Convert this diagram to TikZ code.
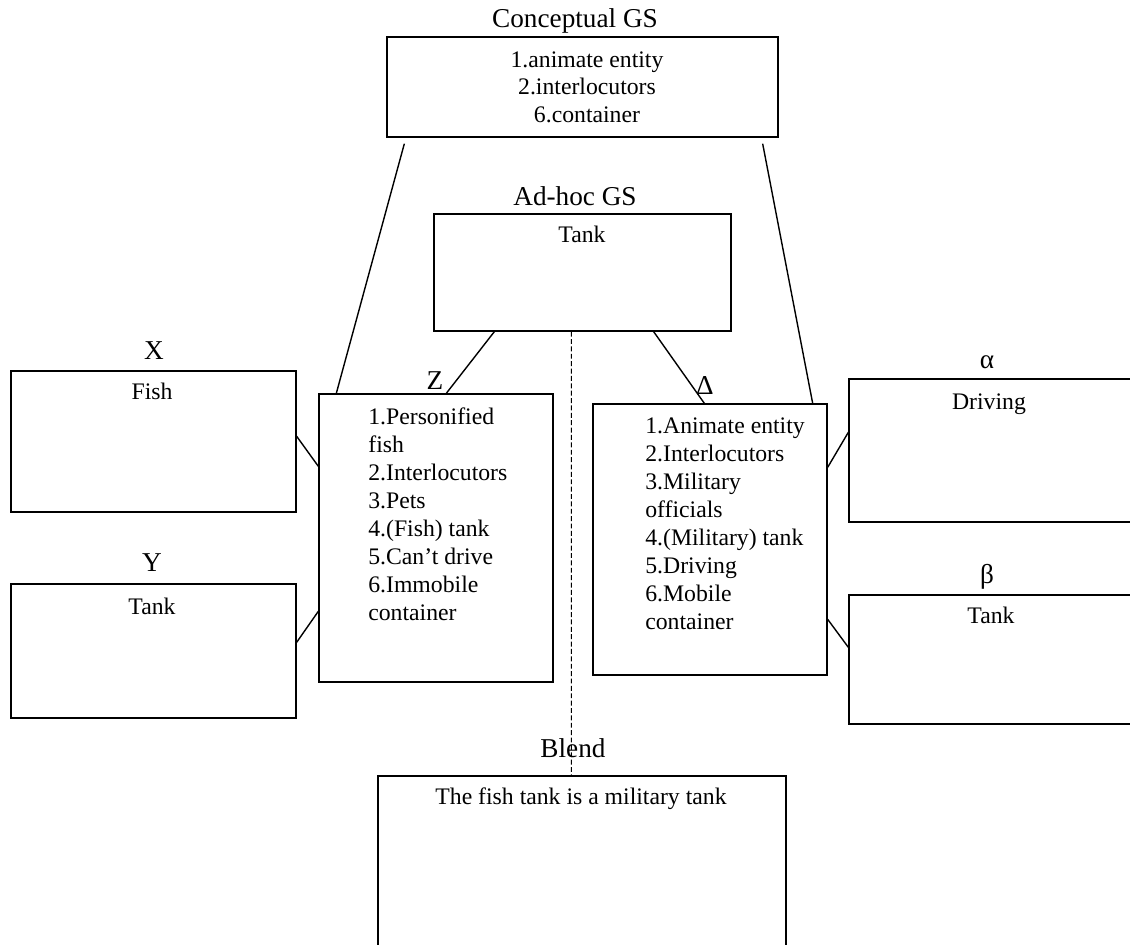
\documentclass[tikz,border=0pt]{standalone}
\usepackage{fontspec}
\setmainfont{Liberation Serif}
\usetikzlibrary{calc}

\tikzset{
  box/.style={draw, line width=0.8pt, inner sep=0pt},
  ttl/.style={font=\fontsize{15.5}{18}\selectfont, inner sep=0pt, anchor=base},
  txt/.style={font=\fontsize{13.5}{15.8}\selectfont, inner sep=0pt, anchor=base},
  lst/.style={font=\fontsize{13.5}{16}\selectfont, inner sep=0pt, align=left, anchor=north west},
  link/.style={line width=0.8pt},
  blendlink/.style={line width=0.6pt, dash pattern=on 2.8pt off 1.4pt},
}

\begin{document}
\begin{tikzpicture}[x=0.02cm, y=-0.02cm]
  \useasboundingbox (0,0) rectangle (1130,945);
  \clip (0,0) rectangle (1130,945);

  \node[box, minimum width=7.82cm, minimum height=2.00cm] (cgs) at (582.5,87) {};
  \node[box, minimum width=5.94cm, minimum height=2.34cm] (ahgs) at (582.5,272.5) {};
  \node[box, minimum width=5.70cm, minimum height=2.82cm] (boxX) at (153.5,441.5) {};
  \node[box, minimum width=5.70cm, minimum height=2.68cm] (boxY) at (153.5,651) {};
  \node[box, minimum width=4.68cm, minimum height=5.76cm] (boxZ) at (436,538) {};
  \node[box, minimum width=4.68cm, minimum height=5.42cm] (boxD) at (710,539.5) {};
  \node[box, minimum width=5.82cm, minimum height=2.86cm] (boxA) at (994.5,450.5) {};
  \node[box, minimum width=5.82cm, minimum height=2.58cm] (boxB) at (994.5,659.5) {};
  \node[box, minimum width=8.16cm, minimum height=3.68cm] (blend) at (582,868) {};

  \node[ttl] (tCgs) at (575,28) {Conceptual GS};
  \node[ttl] (tAhgs) at (575,206) {Ad-hoc GS};
  \node[ttl] (tX) at (154,360) {X};
  \node[ttl] (tY) at (152,572) {Y};
  \node[ttl] (tZ) at (435,390) {Z};
  \node[ttl] (tD) at (705,395) {Δ};
  \node[ttl] (tA) at (987,369) {α};
  \node[ttl] (tB) at (987,584) {β};
  \node[ttl] (tBlend) at (573,758) {Blend};

  \node[txt, align=center, anchor=north] (cgsText) at (587,51)
    {1.animate entity\\2.interlocutors\\6.container};
  \node[txt] (ahgsText) at (582,243) {Tank};
  \node[txt] (xText) at (152,400) {Fish};
  \node[txt] (yText) at (152,615) {Tank};
  \node[txt] (aText) at (989,410) {Driving};
  \node[txt] (bText) at (991,624) {Tank};
  \node[txt] (blendText) at (581,805) {The fish tank is a military tank};

  \node[lst] (zText) at (368,407)
    {1.Personified\\fish\\2.Interlocutors\\3.Pets\\4.(Fish) tank\\5.Can’t drive\\6.Immobile\\container};
  \node[lst] (dText) at (645,417)
    {1.Animate entity\\2.Interlocutors\\3.Military\\officials\\4.(Military) tank\\5.Driving\\6.Mobile\\container};

  \draw[link] ($(cgs.south west)+(18,6)$) -- ($(boxZ.north west)+(18,0)$);
  \draw[link] ($(cgs.south east)+(-16,6)$) -- ($(boxD.north east)+(-15,0)$);
  \draw[link] ($(ahgs.south west)+(61,0)$) -- ($(boxZ.north west)+(128,0)$);
  \draw[link] ($(ahgs.south east)+(-78,0)$) -- ($(boxD.north west)+(112,0)$);
  \draw[link] ($(boxX.north east)+(0,66)$) -- ($(boxZ.north west)+(0,73)$);
  \draw[link] ($(boxY.north east)+(0,59)$) -- ($(boxZ.north west)+(0,218)$);
  \draw[link] ($(boxA.north west)+(0,54)$) -- ($(boxD.north east)+(0,64)$);
  \draw[link] ($(boxB.north west)+(0,53)$) -- ($(boxD.north east)+(0,216)$);
  \draw[blendlink] ($(ahgs.south west)+(138,0)$) -- ($(blend.north west)+(194,0)$);
\end{tikzpicture}
\end{document}
